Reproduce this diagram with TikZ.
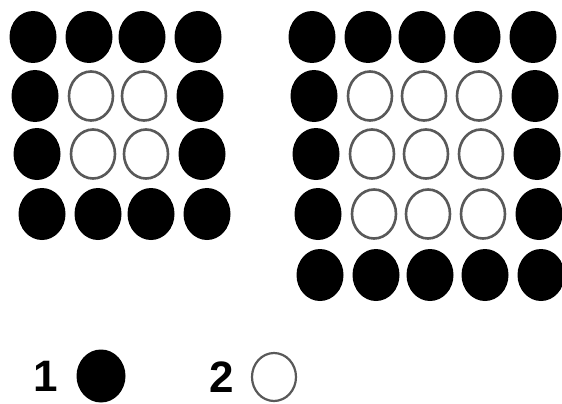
\documentclass[tikz,border=0pt]{standalone}
\usepackage{fontspec}
\setmainfont{Liberation Sans}
\usetikzlibrary{shapes.geometric}
\begin{document}
\begin{tikzpicture}[x=1pt,y=-1pt,
  dotfull/.style={ellipse,fill=black,draw=none,minimum width=47pt,minimum height=52pt,inner sep=0pt},
  dotopen/.style={ellipse,fill=white,draw=black!65,line width=2.6pt,minimum width=44pt,minimum height=49pt,inner sep=0pt},
  legtext/.style={font=\fontsize{44}{44}\selectfont\bfseries,inner sep=0pt}]
\useasboundingbox[fill=white] (0,0) rectangle (562,404);
% left 4x4 grid
\foreach \r/\y/\s in {1/37/0,2/96/2,3/154/4,4/214/9}{
  \foreach \c/\x in {1/33,2/89,3/142,4/198}{
    \pgfmathtruncatemacro{\inner}{(\r>1)&&(\r<4)&&(\c>1)&&(\c<4)}
    \ifnum\inner=1
      \node[dotopen] (L-\r-\c) at (\x+\s,\y) {};
    \else
      \node[dotfull] (L-\r-\c) at (\x+\s,\y) {};
    \fi
  }
}
% right 5x5 grid
\foreach \r/\y/\s in {1/37/0,2/96/2,3/154/4,4/214/6,5/275/8}{
  \foreach \c/\x in {1/312,2/368,3/422,4/477,5/533}{
    \pgfmathtruncatemacro{\inner}{(\r>1)&&(\r<5)&&(\c>1)&&(\c<5)}
    \ifnum\inner=1
      \node[dotopen] (R-\r-\c) at (\x+\s,\y) {};
    \else
      \node[dotfull] (R-\r-\c) at (\x+\s,\y) {};
    \fi
  }
}
% legend
\node[legtext] (n1) at (46,376) {1};
\node[dotfull,minimum width=49pt,minimum height=53pt] (k1) at (101,376) {};
\node[legtext] (n2) at (222,377) {2};
\node[dotopen,minimum width=44pt,minimum height=48pt,line width=2.2pt] (k2) at (274,377) {};
\end{tikzpicture}
\end{document}
